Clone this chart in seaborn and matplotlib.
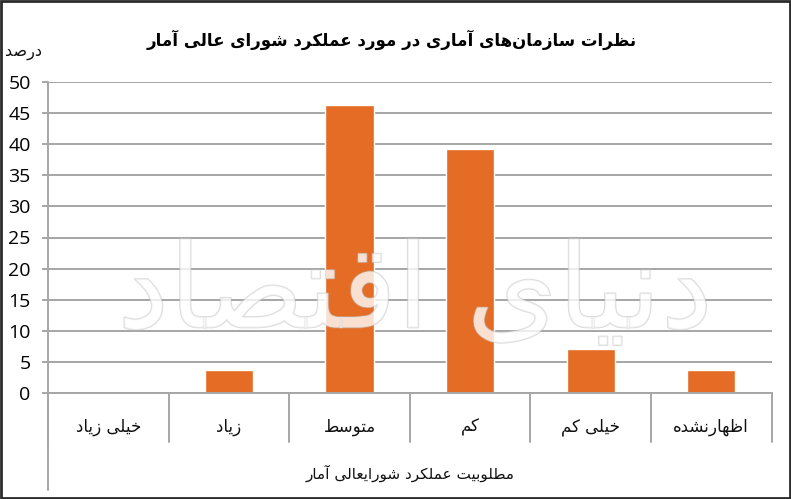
import matplotlib
matplotlib.use("Agg")
import matplotlib.pyplot as plt
import matplotlib.transforms as mtransforms
import matplotlib.patheffects as pe
from matplotlib.patches import Rectangle
from matplotlib.lines import Line2D
import seaborn as sns
import pandas as pd

# ---------------- data ----------------
title_text = "نظرات سازمان‌های آماری در مورد عملکرد شورای عالی آمار"
y_unit = "درصد"
categories = ["خیلی زیاد", "زیاد", "متوسط", "کم", "خیلی کم", "اظهارنشده"]
values = [0, 3.6, 46.4, 39.3, 7.1, 3.6]
x_title = "مطلوبیت عملکرد شورایعالی آمار"
y_ticks = [0, 5, 10, 15, 20, 25, 30, 35, 40, 45, 50]
watermark = "دنیای اقتصاد"

# ---------------- minimal Arabic/Persian shaping ----------------
FORMS = {
    '\u0627': ('\uFE8D', '\uFE8E', None, None),
    '\u0622': ('\uFE81', '\uFE82', None, None),
    '\u0628': ('\uFE8F', '\uFE90', '\uFE91', '\uFE92'),
    '\u062A': ('\uFE95', '\uFE96', '\uFE97', '\uFE98'),
    '\u062E': ('\uFEA5', '\uFEA6', '\uFEA7', '\uFEA8'),
    '\u062F': ('\uFEA9', '\uFEAA', None, None),
    '\u0631': ('\uFEAD', '\uFEAE', None, None),
    '\u0632': ('\uFEAF', '\uFEB0', None, None),
    '\u0633': ('\uFEB1', '\uFEB2', '\uFEB3', '\uFEB4'),
    '\u0634': ('\uFEB5', '\uFEB6', '\uFEB7', '\uFEB8'),
    '\u0635': ('\uFEB9', '\uFEBA', '\uFEBB', '\uFEBC'),
    '\u0637': ('\uFEC1', '\uFEC2', '\uFEC3', '\uFEC4'),
    '\u0638': ('\uFEC5', '\uFEC6', '\uFEC7', '\uFEC8'),
    '\u0639': ('\uFEC9', '\uFECA', '\uFECB', '\uFECC'),
    '\u0642': ('\uFED5', '\uFED6', '\uFED7', '\uFED8'),
    '\u0644': ('\uFEDD', '\uFEDE', '\uFEDF', '\uFEE0'),
    '\u0645': ('\uFEE1', '\uFEE2', '\uFEE3', '\uFEE4'),
    '\u0646': ('\uFEE5', '\uFEE6', '\uFEE7', '\uFEE8'),
    '\u0647': ('\uFEE9', '\uFEEA', '\uFEEB', '\uFEEC'),
    '\u0648': ('\uFEED', '\uFEEE', None, None),
    '\u06CC': ('\uFBFC', '\uFBFD', '\uFBFE', '\uFBFF'),
    '\u06A9': ('\uFB8E', '\uFB8F', '\uFB90', '\uFB91'),
    '\u064A': ('\uFEF1', '\uFEF2', '\uFEF3', '\uFEF4'),
}


def shape(text):
    chars = list(text)
    out = []
    for i, c in enumerate(chars):
        if c not in FORMS:
            out.append(c)
            continue
        prev = chars[i - 1] if i > 0 else None
        nxt = chars[i + 1] if i + 1 < len(chars) else None
        iso, fin, ini, med = FORMS[c]
        jp = prev in FORMS and FORMS[prev][2] is not None
        jn = nxt in FORMS and ini is not None
        if jp and jn:
            out.append(med)
        elif jp:
            out.append(fin)
        elif jn:
            out.append(ini)
        else:
            out.append(iso)
    s = "".join(ch for ch in out if ch != '\u200c')
    return s[::-1]


# ---------------- figure ----------------
sns.set_theme(style="white")
plt.rcParams['font.family'] = ['DejaVu Sans']

W, H = 791, 499
fig = plt.figure(figsize=(W / 100, H / 100), dpi=100)
fig.patch.set_facecolor("white")

x0, x1 = 48, 771.5
y_top, y_bot = 82.3, 392.7
ax = fig.add_axes([x0 / W, 1 - y_bot / H, (x1 - x0) / W, (y_bot - y_top) / H])

df = pd.DataFrame({"cat": categories, "val": values})
sns.barplot(data=df, x="cat", y="val", color="#E46C24", saturation=1,
            width=0.4, ax=ax, order=categories)

ax.set_xlim(-0.5, len(categories) - 0.5)
ax.set_ylim(0, 50)
ax.set_yticks(y_ticks)
ax.set_yticklabels([str(t) for t in y_ticks], fontfamily="Open Sans", fontsize=14,
                   color="#000000")
ax.yaxis.grid(True, color="#A6A6A6", linewidth=1.4)
ax.set_axisbelow(True)
ax.tick_params(axis="y", direction="out", length=4.5, width=1.4, color="#A6A6A6",
               pad=8, left=True)
for s in ["top", "right"]:
    ax.spines[s].set_visible(False)
ax.spines["left"].set_visible(False)
ax.spines["bottom"].set_color("#A6A6A6")
ax.spines["bottom"].set_linewidth(1.4)

ax.set_xticks(range(len(categories)))
ax.set_xticklabels([shape(c) for c in categories], fontsize=12, color="#111111")
ax.tick_params(axis="x", length=0, pad=18)
ax.set_xlabel(shape(x_title), fontsize=11, color="#111111", labelpad=21)
ax.set_ylabel("")

# category frame lines below axis
trans = mtransforms.blended_transform_factory(ax.transData, ax.transAxes)
sep_bottom = -(442 - y_bot) / (y_bot - y_top)
left_bottom = -(490 - y_bot) / (y_bot - y_top)
for b in [i - 0.5 for i in range(len(categories) + 1)]:
    ax.add_line(Line2D([b, b], [1.0 if b == -0.5 else 0, sep_bottom], transform=trans,
                       color="#A6A6A6", linewidth=1.4, clip_on=False))
ax.add_line(Line2D([-0.5, -0.5], [0, left_bottom], transform=trans,
                   color="#A6A6A6", linewidth=1.4, clip_on=False))

# faint watermark
fig.text(415 / W, 1 - 295 / H, shape(watermark), ha="center", va="center",
         fontsize=84, color="white", alpha=0.55, zorder=5,
         path_effects=[pe.withStroke(linewidth=1.2, foreground="#bdbdbd")])

# title and unit
fig.text(392 / W, 1 - 40 / H, shape(title_text), ha="center", va="center",
         fontsize=12, fontweight="bold", color="#000000")
fig.text(24 / W, 1 - 52 / H, shape(y_unit), ha="center", va="center",
         fontsize=11.5, color="#111111")

# outer border
fig.add_artist(Rectangle((1 / W, 1 / H), (W - 2) / W, (H - 2) / H,
                         transform=fig.transFigure, fill=False,
                         edgecolor="#2b2b2b", linewidth=2))

fig.savefig("out.png", dpi=100, facecolor="white")
